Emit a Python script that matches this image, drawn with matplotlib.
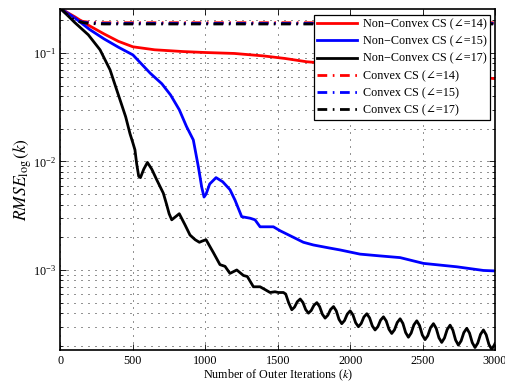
import matplotlib
matplotlib.use("Agg")
import matplotlib.pyplot as plt
from matplotlib.ticker import LogLocator, NullFormatter, FixedLocator

plt.rcParams['font.family'] = ['Liberation Serif', 'DejaVu Serif']
plt.rcParams['mathtext.fontset'] = 'stix'

# ---------------- data ----------------
red_k = [0, 50, 100, 150, 200, 300, 400, 500, 650, 850, 1000, 1200, 1400, 1550, 1700, 2000, 2500, 3000]
red_v = [0.257, 0.235, 0.215, 0.195, 0.178, 0.150, 0.128, 0.114, 0.107, 0.103, 0.101, 0.099,
         0.094, 0.089, 0.083, 0.077, 0.066, 0.058]

blue_k = [0, 100, 200, 300, 400, 500, 620, 700, 760, 820, 870, 917, 952, 975, 991, 1005, 1030,
          1074, 1120, 1170, 1205, 1251, 1309, 1343, 1378, 1470, 1516, 1608, 1677, 1746, 1850,
          1930, 2068, 2200, 2345, 2506, 2736, 2920, 3000]
blue_v = [0.257, 0.210, 0.165, 0.135, 0.113, 0.096, 0.065, 0.052, 0.041, 0.030, 0.021, 0.0158,
          0.0089, 0.0058, 0.0047, 0.0050, 0.0062, 0.0071, 0.0065, 0.0055, 0.0044, 0.0031, 0.0030,
          0.0029, 0.0025, 0.0025, 0.0023, 0.0020, 0.0018, 0.0017, 0.0016, 0.00153, 0.0014,
          0.00135, 0.0013, 0.00115, 0.00107, 0.00099, 0.00098]

# black, first part (fast decay)
black_k = [0, 40, 100, 192, 273, 342, 411, 450, 480, 500, 514, 526, 540, 552, 575, 600, 630,
           664, 710, 733, 750, 768, 795, 820, 860, 894, 930, 959, 980, 1005, 1055, 1101, 1136,
           1170, 1217, 1263, 1290, 1332, 1378, 1412, 1447, 1481, 1504, 1539, 1555, 1575]
black_v = [0.257, 0.228, 0.190, 0.147, 0.107, 0.070, 0.037, 0.0258, 0.018, 0.0148, 0.0128,
           0.0095, 0.0073, 0.0071, 0.0085, 0.0098, 0.0085, 0.0068, 0.0051, 0.0040, 0.0033,
           0.0029, 0.0031, 0.0033, 0.0026, 0.0021, 0.0019, 0.0018, 0.00185, 0.0019, 0.00145,
           0.00112, 0.00108, 0.00093, 0.0010, 0.00089, 0.00087, 0.00070, 0.00070, 0.00066,
           0.00062, 0.00063, 0.00062, 0.00062, 0.00060, 0.00050]
# black, oscillating tail
black_tail_k = [1597, 1616, 1635, 1655, 1674, 1693, 1712, 1731, 1750, 1770, 1789, 1808, 1827,
                1846, 1865, 1885, 1904, 1923, 1942, 1961, 1980, 2000, 2019, 2038, 2057,
                2076, 2095, 2115, 2134, 2153, 2172, 2191, 2210, 2230, 2249, 2268, 2287,
                2306, 2325, 2345, 2364, 2383, 2402, 2421, 2440, 2460, 2479, 2498, 2517,
                2536, 2555, 2575, 2594, 2613, 2632, 2651, 2670, 2690, 2709, 2728, 2747,
                2766, 2785, 2805, 2824, 2843, 2862, 2881, 2900, 2920, 2939, 2958, 2977,
                2996, 3000]
black_tail_v = [0.00043, 0.000455, 0.00051, 0.00054, 0.000501, 0.000431, 0.00040,
                0.000423, 0.000473, 0.00050, 0.00046, 0.000391, 0.00036,
                0.000383, 0.000433, 0.00046, 0.00042, 0.00035, 0.00032,
                0.000342, 0.000392, 0.00042, 0.000386, 0.000326, 0.00030,
                0.000321, 0.000369, 0.000395, 0.000362, 0.000305, 0.00028,
                0.00030, 0.000345, 0.00037, 0.000339, 0.000284, 0.00026,
                0.000281, 0.000328, 0.000355, 0.000322, 0.000265, 0.00024,
                0.000262, 0.000312, 0.00034, 0.000308, 0.000252, 0.000228,
                0.000248, 0.000294, 0.00032, 0.00029, 0.000237, 0.000215,
                0.000236, 0.000283, 0.00031, 0.000279, 0.000226, 0.000203,
                0.000222, 0.000265, 0.00029, 0.000262, 0.000214, 0.000193,
                0.000212, 0.000255, 0.00028, 0.000253, 0.000206, 0.000186,
                0.000204, 0.00021]

cvx_k = [0, 40, 80, 120, 160, 200, 300, 3000]
cvx_red_v = [0.257, 0.232, 0.212, 0.200, 0.195, 0.192, 0.190, 0.190]
cvx_blue_v = [0.257, 0.231, 0.210, 0.198, 0.192, 0.189, 0.187, 0.187]
cvx_black_v = [0.257, 0.230, 0.208, 0.196, 0.190, 0.187, 0.185, 0.185]

labels = ["Non\u2212Convex CS (\u2220=14)", "Non\u2212Convex CS (\u2220=15)", "Non\u2212Convex CS (\u2220=17)",
          "Convex CS (\u2220=14)", "Convex CS (\u2220=15)", "Convex CS (\u2220=17)"]
x_ticks = [0, 500, 1000, 1500, 2000, 2500, 3000]

# ---------------- figure ----------------
fig = plt.figure(figsize=(5.06, 3.83), dpi=100)
ax = fig.add_axes([60.5 / 506, 33 / 383, (495 - 60.5) / 506, (350 - 8.5) / 383])

lw = 2.0
dd = (0, (3.5, 2.0, 0.6, 2.0))
ax.plot(red_k, red_v, color='#ff0000', lw=lw, label=labels[0])
ax.plot(blue_k, blue_v, color='#0000ff', lw=lw, label=labels[1])
ax.plot(black_k + black_tail_k, black_v + black_tail_v, color='black', lw=lw, label=labels[2],
        solid_joinstyle='round')
ax.plot(cvx_k, cvx_red_v, color='#ff0000', lw=lw, ls=dd, label=labels[3])
ax.plot(cvx_k, cvx_blue_v, color='#0000ff', lw=lw, ls=dd, label=labels[4])
ax.plot(cvx_k, cvx_black_v, color='black', lw=lw, ls=dd, label=labels[5])

ax.set_yscale('log')
ax.set_xlim(0, 3000)
ax.set_ylim(1.83e-4, 0.257)
ax.xaxis.set_major_locator(FixedLocator(x_ticks))
ax.yaxis.set_major_locator(LogLocator(base=10, numticks=10))
ax.yaxis.set_minor_locator(LogLocator(base=10, subs=range(2, 10), numticks=100))
ax.yaxis.set_minor_formatter(NullFormatter())

gridkw = dict(color='black', lw=0.6, ls=(0, (1.2, 7.2)))
ax.grid(True, which='major', axis='both', **gridkw)
ax.grid(True, which='minor', axis='y', **gridkw)

ax.tick_params(which='both', direction='in', top=True, right=True, labelsize=8.7, width=0.6)
ax.tick_params(which='major', length=4)
ax.tick_params(which='minor', length=2)
for s in ax.spines.values():
    s.set_linewidth(1.2)

ax.set_xlabel("Number of Outer Iterations ($k$)", fontsize=8.7, labelpad=0.5)
ax.set_ylabel("$RMSE_{\\log}(k)$", fontsize=12.5, labelpad=-1)

leg = ax.legend(loc='upper right', bbox_to_anchor=(0.9885, 0.981), borderaxespad=0,
                fontsize=8.7, handlelength=3.3, handletextpad=0.45, labelspacing=0.42,
                borderpad=0.3, fancybox=False, framealpha=1, edgecolor='black')
leg.get_frame().set_linewidth(0.9)

fig.savefig("out.png", dpi=100)
